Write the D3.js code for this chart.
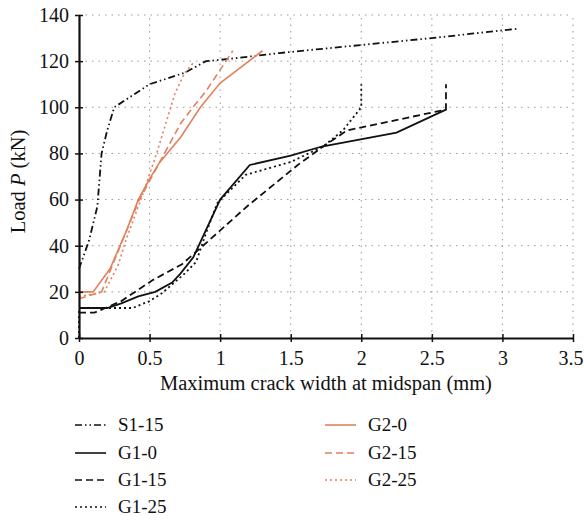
<!DOCTYPE html>
<meta charset="utf-8">
<style>
    body { margin: 0; padding: 0; background: #fff; }
    text { font-family: "Liberation Serif", "DejaVu Serif", serif; fill: #111; }
    .grid line { stroke: #999; stroke-width: 1; stroke-dasharray: 1.5,5; }
    .axis path, .axis line { stroke: #111; }
</style>
<body>
<script src="https://cdnjs.cloudflare.com/ajax/libs/d3/7.8.5/d3.min.js"></script>
<script>
    // values: crack width (mm) and load P (kN)
    var s115X = [0, 0.07, 0.13, 0.16, 0.2, 0.25, 0.5, 0.75, 0.9, 1.07, 1.42, 2.0, 2.5, 3.1];
    var s115Y = [30, 42, 57, 80, 90, 100, 110, 115, 120, 121, 123.5, 127, 130, 134];

    var g10X = [0, 0.2, 0.3, 0.42, 0.54, 0.66, 0.72, 0.81, 1.0, 1.21, 1.5, 1.72, 2.25, 2.6];
    var g10Y = [13, 13, 15, 18, 20, 24, 28, 35, 60, 75, 79, 83, 89, 99];

    var g115X = [0, 0.11, 0.3, 0.52, 0.73, 0.86, 0.98, 1.19, 1.42, 1.55, 1.73, 1.9, 2.6, 2.6];
    var g115Y = [11, 11, 16, 25, 32, 39, 45.5, 57, 68.5, 75, 83, 90, 99, 110];

    var g125X = [0, 0, 0.38, 0.5, 0.59, 0.75, 0.83, 0.9, 0.98, 1.18, 1.5, 1.73, 1.87, 2.0, 2.0];
    var g125Y = [0, 13, 13, 16, 19.5, 28, 33, 45.5, 58.5, 70.7, 76.3, 83, 90, 100, 110];

    var g20X = [0, 0.1, 0.22, 0.34, 0.42, 0.5, 0.57, 0.72, 0.86, 1.0, 1.3];
    var g20Y = [20, 20, 30, 47, 60, 69, 76, 87, 100, 110.5, 124.5];

    var g215X = [0, 0.16, 0.24, 0.34, 0.42, 0.57, 0.72, 0.82, 0.9, 1.09];
    var g215Y = [17, 20, 32, 47, 59, 76, 93, 101, 107, 124.5];

    var g225X = [0, 0.18, 0.28, 0.33, 0.45, 0.55, 0.6, 0.68, 0.75, 0.82];
    var g225Y = [18, 20, 32, 42, 62, 80, 90, 106, 115, 120];

    var xTicks = [0, 0.5, 1, 1.5, 2, 2.5, 3, 3.5];
    var yTicks = [0, 20, 40, 60, 80, 100, 120, 140];

    var orange = "#e2805f";
    var series = [
        {name: "S1-15", x: s115X, y: s115Y, color: "#111", dash: "7,3,1.5,3,1.5,3", col: 0, row: 0},
        {name: "G1-0", x: g10X, y: g10Y, color: "#111", dash: null, col: 0, row: 1},
        {name: "G1-15", x: g115X, y: g115Y, color: "#111", dash: "7,4", col: 0, row: 2},
        {name: "G1-25", x: g125X, y: g125Y, color: "#111", dash: "2,3", col: 0, row: 3},
        {name: "G2-0", x: g20X, y: g20Y, color: orange, dash: null, col: 1, row: 0},
        {name: "G2-15", x: g215X, y: g215Y, color: orange, dash: "7,4", col: 1, row: 1},
        {name: "G2-25", x: g225X, y: g225Y, color: orange, dash: "2,3", col: 1, row: 2}
    ];

    var margin = {top: 15, right: 11, bottom: 183, left: 79},
        width = 584 - margin.left - margin.right,
        height = 521 - margin.top - margin.bottom;

    var svg = d3.select("body").append("svg")
        .attr("width", 584)
        .attr("height", 521);

    var g = svg.append("g")
        .attr("transform", "translate(" + margin.left + "," + margin.top + ")");

    var x = d3.scaleLinear().domain([0, 3.5]).range([0, width]);
    var y = d3.scaleLinear().domain([0, 140]).range([height, 0]);

    // dotted grid
    var grid = g.append("g").attr("class", "grid");
    grid.selectAll(".gx").data(xTicks.slice(1)).enter().append("line")
        .attr("x1", function(d) { return x(d); }).attr("x2", function(d) { return x(d); })
        .attr("y1", y(0)).attr("y2", y(140));
    grid.selectAll(".gy").data(yTicks.slice(1)).enter().append("line")
        .attr("x1", x(0)).attr("x2", x(3.5))
        .attr("y1", function(d) { return y(d); }).attr("y2", function(d) { return y(d); });

    // series
    var line = d3.line()
        .x(function(d) { return x(d[0]); })
        .y(function(d) { return y(d[1]); });

    series.forEach(function(s) {
        g.append("path")
            .datum(d3.zip(s.x, s.y))
            .attr("d", line)
            .attr("fill", "none")
            .attr("stroke", s.color)
            .attr("stroke-width", s.color === orange ? 1.6 : 1.8)
            .attr("stroke-dasharray", s.dash);
    });

    // axes
    var xAxis = g.append("g").attr("class", "axis")
        .attr("transform", "translate(0," + height + ")")
        .call(d3.axisBottom(x).tickValues(xTicks).tickSize(4).tickSizeOuter(0).tickPadding(9)
            .tickFormat(function(d) { return d3.format("")(d); }));
    xAxis.selectAll(".tick line").attr("y1", -4).attr("stroke-width", 1.5);
    xAxis.select(".domain").attr("stroke-width", 2.2);
    xAxis.selectAll("text").style("font-size", "20px").attr("fill", "#111");
    // last label sits at the right edge
    xAxis.selectAll("text").filter(function(d) { return d === 3.5; })
        .attr("text-anchor", "end").attr("dx", "10px");

    var yAxis = g.append("g").attr("class", "axis")
        .call(d3.axisLeft(y).tickValues(yTicks).tickSize(4).tickSizeOuter(0).tickPadding(6));
    yAxis.selectAll(".tick line").attr("x1", 4).attr("stroke-width", 1.5);
    yAxis.select(".domain").attr("stroke-width", 2.2);
    yAxis.selectAll("text").style("font-size", "20px").attr("fill", "#111");

    // axis titles
    svg.append("text")
        .attr("x", margin.left + width / 2)
        .attr("y", 390)
        .attr("text-anchor", "middle")
        .style("font-size", "20.5px")
        .text("Maximum crack width at midspan (mm)");

    var yt = svg.append("text")
        .attr("transform", "translate(25," + (margin.top + height / 2 + 5) + ") rotate(-90)")
        .attr("text-anchor", "middle")
        .style("font-size", "20.5px");
    yt.append("tspan").text("Load ");
    yt.append("tspan").style("font-style", "italic").text("P");
    yt.append("tspan").text(" (kN)");

    // legend
    var legend = svg.append("g").attr("class", "legend");
    var colX = [75, 325], rowY = [425, 453, 480, 507];
    series.forEach(function(s) {
        var lx = colX[s.col], ly = rowY[s.row];
        legend.append("line")
            .attr("x1", lx).attr("x2", lx + 31)
            .attr("y1", ly).attr("y2", ly)
            .attr("stroke", s.color)
            .attr("stroke-width", 1.6)
            .attr("stroke-dasharray", s.dash);
        legend.append("text")
            .attr("x", lx + 43).attr("y", ly + 6)
            .style("font-size", "19px")
            .text(s.name);
    });
</script>
</body>
</html>
